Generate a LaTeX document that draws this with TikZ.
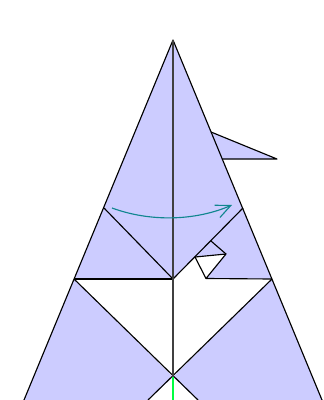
\documentclass[tikz,border=0pt]{standalone}
\usetikzlibrary{arrows.meta}
\definecolor{Paper}{HTML}{CCCCFF}
\definecolor{Turn}{HTML}{10868F}
\definecolor{Axis}{HTML}{00FF40}
\begin{document}
\begin{tikzpicture}[
  x=0.75pt,y=-0.75pt,
  fold/.style={draw=black,line width=0.85pt,line join=round},
  middle/.style={draw=black!75,line width=1pt},
  turn/.style={draw=Turn,line width=0.85pt,-{Straight Barb[length=11pt,width=10pt]}}
]
\useasboundingbox (0,0) rectangle (324,400);
\coordinate (apex) at (173,40);
\coordinate (footL) at (24,400);
\coordinate (footR) at (322,400);
\coordinate (kneeL) at (74,279);
\coordinate (kneeR) at (272,279);
\coordinate (hipL) at (104,208);
\coordinate (hipR) at (243,208);
\coordinate (mid) at (173,279);
\coordinate (cross) at (173,377);
\coordinate (baseL) at (148,400);
\coordinate (baseR) at (198,400);
\coordinate (pocketA) at (195,257);
\coordinate (pocketB) at (211,241);
\coordinate (pocketC) at (226,254);
\coordinate (pocketD) at (206,278.5);
\coordinate (flapA) at (211,132);
\coordinate (flapB) at (277,159);
\coordinate (flapC) at (222.5,159);
% paper
\fill[Paper] (flapA) -- (flapB) -- (flapC) -- cycle;
\fill[Paper] (apex) -- (footR) -- (baseR) -- (cross) -- (kneeR) -- (pocketD) -- (pocketC) -- (pocketA) -- (mid) -- (kneeL) -- (cross) -- (baseL) -- (footL) -- cycle;
% creases
\draw[fold] (footL) -- (apex) -- (footR);
\draw[fold] (flapA) -- (flapB) -- (flapC);
\draw[fold] (hipL) -- (mid) -- (hipR);
\draw[fold] (kneeL) -- (mid);
\draw[fold] (kneeL) -- (baseR);
\draw[fold] (kneeR) -- (baseL);
\draw[fold] (kneeR) -- (pocketD) -- (pocketC) -- (pocketA) -- (pocketD);
\draw[fold] (pocketB) -- (pocketC);
\draw[middle] (apex) -- (cross);
\draw[draw=Axis,line width=1pt] (cross) -- (173,400);
\coordinate (turnS) at (112,208);
\coordinate (turnE) at (232,205);
\draw[turn] (turnS) .. controls (150,222) and (195,221) .. (turnE);
\end{tikzpicture}
\end{document}
